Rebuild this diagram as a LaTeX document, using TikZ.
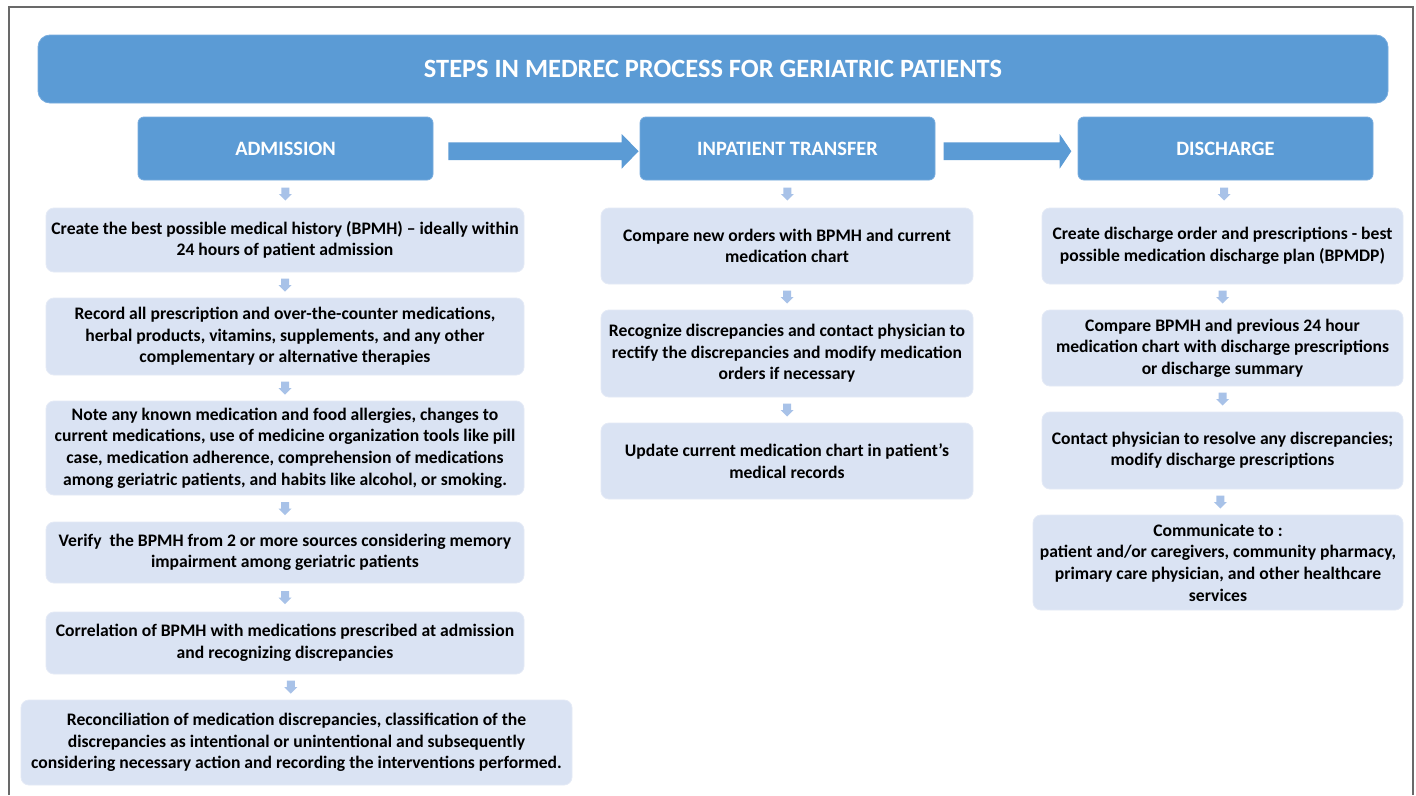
\documentclass[tikz,border=0pt]{standalone}
\usepackage{fontspec}
\setmainfont{Carlito}
\usetikzlibrary{calc}

\definecolor{headblue}{RGB}{91,155,213}
\definecolor{headedge}{RGB}{120,172,222}
\definecolor{boxfill}{RGB}{218,227,243}
\definecolor{boxedge}{RGB}{228,234,246}
\definecolor{smallarrow}{RGB}{168,194,232}
\definecolor{framegray}{RGB}{105,105,105}

\tikzset{
  titlebox/.style={fill=headblue, draw=headedge, line width=0.8pt, rounded corners=12pt,
    inner sep=0pt, text=white, font=\fontsize{26.4}{30}\selectfont\bfseries},
  phasebox/.style={fill=headblue, draw=headedge, line width=0.8pt, rounded corners=6pt,
    minimum width=295pt, minimum height=63pt, inner sep=0pt, text=white,
    font=\fontsize{20.4}{24}\selectfont\bfseries},
  stepbox/.style={fill=boxfill, draw=boxedge, line width=0.8pt, rounded corners=8pt,
    inner sep=0pt, align=center, font=\fontsize{17.6}{21.6}\selectfont\bfseries},
  flowarrow/.style={fill=headblue},
  minorarrow/.style={fill=smallarrow},
}

% small block arrow centred in the gap between two stacked boxes
\newcommand\stepdown[2]{%
  \fill[minorarrow] ($(#1.south)!0.5!(#2.north)$) ++(-4,-6.5) -- ++(8,0) -- ++(0,6.5)
    -- ++(2.5,0) -- ++(-6.5,6.5) -- ++(-6.5,-6.5) -- ++(2.5,0) -- cycle;}

% wide block arrow from one phase box to the next
\newcommand\phasearrow[4]{%
  \fill[flowarrow] ($(#1.east)+(#3,-6.2)$) -- ($(#2.west)+(-18,-6.2)$)
    -- ($(#2.west)+(-18,-14.5)$) -- ($(#2.west)+(#4,2.7)$)
    -- ($(#2.west)+(-18,20.2)$) -- ($(#2.west)+(-18,11.5)$)
    -- ($(#1.east)+(#3,11.5)$) -- cycle;}

\begin{document}
\begin{tikzpicture}[x=1pt,y=-1pt]
\useasboundingbox (0,0) rectangle (1416,795);
\fill[white] (0,0) rectangle (1416,795);

% outer frame (open at the bottom edge)
\draw[framegray, line width=2pt] (8.5,795) -- (8.5,6.5) -- (1412.5,6.5) -- (1412.5,795);

% title
\node[titlebox, minimum width=1350pt, minimum height=68pt] (title) at (713,69)
  {STEPS IN MEDREC PROCESS FOR GERIATRIC PATIENTS};

% phases
\node[phasebox] (adm) at (285.5,148.5) {ADMISSION};
\node[phasebox] (inp) at (787.5,148.5) {INPATIENT TRANSFER};
\node[phasebox] (dis) at (1225.5,148.5) {DISCHARGE};

\phasearrow{adm}{inp}{15}{-1}
\phasearrow{inp}{dis}{8.3}{-6.3}

% admission steps
\node[stepbox, minimum width=478pt, minimum height=64pt] (a1) at (285,240)
  {Create the best possible medical history (BPMH) -- ideally within\\24 hours of patient admission};
\node[stepbox, minimum width=478pt, minimum height=77pt] (a2) at (285,336.5)
  {Record all prescription and over-the-counter medications,\\herbal products, vitamins, supplements, and any other\\complementary or alternative therapies};
\node[stepbox, minimum width=478pt, minimum height=94pt] (a3) at (285,448)
  {Note any known medication and food allergies, changes to\\current medications, use of medicine organization tools like pill\\case, medication adherence, comprehension of medications\\among geriatric patients, and habits like alcohol, or smoking.};
\node[stepbox, minimum width=478pt, minimum height=61pt] (a4) at (285,552.5)
  {Verify\ \ the BPMH from 2 or more sources considering memory\\impairment among geriatric patients};
\node[stepbox, minimum width=478pt, minimum height=62pt] (a5) at (285,643)
  {Correlation of BPMH with medications prescribed at admission\\and recognizing discrepancies};
\node[stepbox, minimum width=551pt, minimum height=85pt] (a6) at (296.5,742.5)
  {Reconciliation of medication discrepancies, classification of the\\discrepancies as intentional or unintentional and subsequently\\considering necessary action and recording the interventions performed.};

% inpatient transfer steps
\node[stepbox, minimum width=372pt, minimum height=76pt] (i1) at (787,246)
  {Compare new orders with BPMH and current\\medication chart};
\node[stepbox, minimum width=372pt, minimum height=87pt] (i2) at (787,353.5)
  {Recognize discrepancies and contact physician to\\rectify the discrepancies and modify medication\\orders if necessary};
\node[stepbox, minimum width=372pt, minimum height=76pt] (i3) at (787,461)
  {Update current medication chart in patient’s\\medical records};

% discharge steps
\node[stepbox, minimum width=361pt, minimum height=76pt] (d1) at (1222.5,246)
  {Create discharge order and prescriptions - best\\possible medication discharge plan (BPMDP)};
\node[stepbox, minimum width=361pt, minimum height=76pt] (d2) at (1222.5,348)
  {Compare BPMH and previous 24 hour\\medication chart with discharge prescriptions\\or discharge summary};
\node[stepbox, minimum width=361pt, minimum height=77pt] (d3) at (1222.5,450.5)
  {Contact physician to resolve any discrepancies;\\modify discharge prescriptions};
\node[stepbox, minimum width=370pt, minimum height=95pt] (d4) at (1218,562.5)
  {Communicate to :\\patient and/or caregivers, community pharmacy,\\primary care physician, and other healthcare\\services};

% connectors
\stepdown{adm}{a1}
\stepdown{a1}{a2}
\stepdown{a2}{a3}
\stepdown{a3}{a4}
\stepdown{a4}{a5}
\stepdown{a5}{a6}
\stepdown{inp}{i1}
\stepdown{i1}{i2}
\stepdown{i2}{i3}
\stepdown{dis}{d1}
\stepdown{d1}{d2}
\stepdown{d2}{d3}
\stepdown{d3}{d4}
\end{tikzpicture}
\end{document}
